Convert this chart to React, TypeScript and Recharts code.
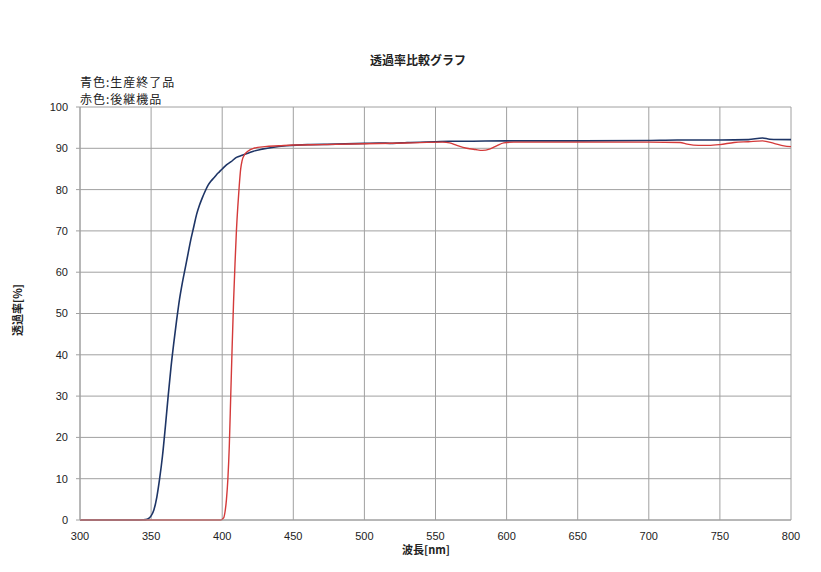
import React from 'react';
import { LineChart, Line, XAxis, YAxis, CartesianGrid } from 'recharts';

const xTicks = [300, 350, 400, 450, 500, 550, 600, 650, 700, 750, 800];
const yTicks = [0, 10, 20, 30, 40, 50, 60, 70, 80, 90, 100];

const blueWavelengths = [300, 340, 344, 346, 348, 350, 352, 354, 356, 358, 360, 362, 364, 366, 368, 370, 372, 374, 376, 378, 380, 382, 384, 386, 388, 390, 392, 394, 396, 398, 400, 403, 406, 410, 414, 418, 422, 428, 435, 445, 460, 480, 500, 510, 520, 530, 550, 560, 570, 600, 650, 700, 720, 750, 770, 780, 785, 800];
const blueValues = [0, 0, 0.05, 0.1, 0.3, 1.0, 2.5, 5.5, 10, 15.5, 22.5, 30, 37, 43, 48.5, 53.5, 57.5, 61, 64.5, 68, 71, 74, 76.2, 78, 79.6, 81, 82, 82.8, 83.6, 84.3, 85, 86, 86.7, 87.8, 88.3, 88.8, 89.3, 89.8, 90.2, 90.6, 90.9, 91.0, 91.2, 91.3, 91.2, 91.4, 91.6, 91.7, 91.7, 91.8, 91.8, 91.9, 92.0, 92.0, 92.1, 92.5, 92.2, 92.1];

const redWavelengths = [300, 399, 401, 402, 403, 404, 405, 406, 407, 408, 409, 410, 411, 412, 413, 414, 416, 418, 422, 430, 440, 450, 470, 500, 530, 555, 560, 565, 572, 578, 583, 588, 593, 598, 605, 650, 700, 722, 727, 735, 742, 750, 760, 770, 780, 788, 795, 800];
const redValues = [0, 0, 0.5, 2, 5, 10, 18, 30, 42, 53, 62, 70, 76, 81, 85, 87, 88.6, 89.3, 90, 90.4, 90.6, 90.8, 90.9, 91.1, 91.3, 91.5, 91.3, 90.7, 90.0, 89.7, 89.5, 89.8, 90.6, 91.3, 91.5, 91.5, 91.5, 91.4, 91.0, 90.7, 90.7, 90.9, 91.4, 91.6, 91.8, 91.2, 90.6, 90.4];

const blueData = blueWavelengths.map((w, i) => ({ w, v: blueValues[i] }));
const redData = redWavelengths.map((w, i) => ({ w, v: redValues[i] }));

const tickStyle = { fontSize: 11, fill: '#222', fontFamily: '"Liberation Sans", Arial, sans-serif' };
const jp = '"Noto Sans CJK JP", sans-serif';

export default function App() {
  return (
    <div style={{ position: 'absolute', left: 0, top: 0, width: 821, height: 572, background: '#fff' }}>
      <div style={{ position: 'absolute', left: 0, width: 836, top: 51, textAlign: 'center', fontFamily: jp, fontWeight: 700, fontSize: 12, color: '#222' }}>透過率比較グラフ</div>
      <div style={{ position: 'absolute', left: 80, top: 73, fontFamily: jp, fontSize: 12, color: '#222', lineHeight: '17px', letterSpacing: 1 }}>
        <div>青色:生産終了品</div>
        <div>赤色:後継機品</div>
      </div>
      <div style={{ position: 'absolute', left: 0, width: 852, top: 543, lineHeight: '12px', textAlign: 'center', fontFamily: jp, fontWeight: 700, fontSize: 11, color: '#222' }}>波長[nm]</div>
      <div style={{ position: 'absolute', left: 17, top: 310, transform: 'translate(-50%, -50%) rotate(-90deg)', fontFamily: jp, fontWeight: 700, fontSize: 11, color: '#222', whiteSpace: 'nowrap' }}>透過率[%]</div>
      <LineChart width={821} height={572} margin={{ top: 107, right: 30, bottom: 22, left: 40 }} style={{ position: 'absolute', left: 0, top: 0 }}>
        <CartesianGrid stroke="#a0a0a0" strokeWidth={1} />
        <XAxis dataKey="w" type="number" domain={[300, 800]} ticks={xTicks} allowDuplicatedCategory={false} tick={tickStyle} tickLine={false} axisLine={{ stroke: '#a0a0a0' }} tickMargin={6} height={30} />
        <YAxis type="number" domain={[0, 100]} ticks={yTicks} tick={tickStyle} tickLine={{ stroke: '#a0a0a0' }} tickSize={4} axisLine={{ stroke: '#a0a0a0' }} tickMargin={8} width={40} />
        <Line data={blueData} dataKey="v" type="monotone" stroke="#1e3566" strokeWidth={1.6} dot={false} isAnimationActive={false} />
        <Line data={redData} dataKey="v" type="monotone" stroke="#d43a3a" strokeWidth={1.4} dot={false} isAnimationActive={false} />
      </LineChart>
    </div>
  );
}
